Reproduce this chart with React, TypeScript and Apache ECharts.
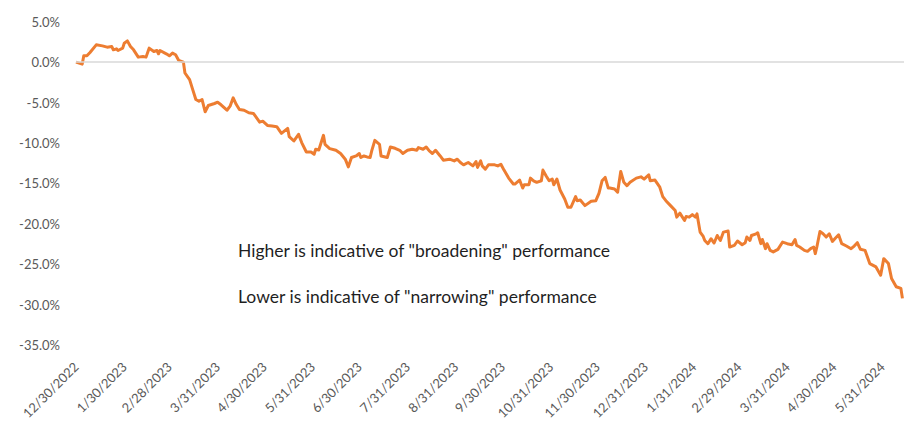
import React, { useEffect, useRef } from "react";
import * as echarts from "echarts";

// Start date of the series (day 0)
const startDate = "2022-12-30";
const endDay = 532; // right edge of the plot (calendar days after start)

// Calendar days after 12/30/2022
const dayOffsets = [
  0, 4, 5, 7, 9, 13, 17, 20, 23, 24, 26, 27, 30, 31, 33, 35, 37, 40, 43, 45,
  47, 50, 52, 53, 54, 58, 60, 62, 64, 66, 69, 70, 73, 75, 77, 79, 81, 83, 85, 89,
  91, 93, 97, 99, 101, 103, 105, 108, 111, 114, 118, 120, 123, 126, 129, 132, 136, 137, 140, 143,
  145, 148, 151, 153, 154, 156, 159, 160, 163, 167, 170, 173, 175, 177, 180, 182, 183, 185, 187, 189,
  190, 192, 195, 196, 200, 202, 205, 208, 210, 213, 216, 219, 220, 223, 225, 227, 229, 231, 234, 236,
  240, 243, 245, 247, 249, 252, 255, 257, 258, 260, 261, 263, 265, 269, 271, 273, 275, 278, 281, 282,
  285, 287, 288, 291, 292, 294, 296, 299, 300, 302, 304, 306, 307, 309, 311, 314, 316, 318, 321, 322,
  324, 327, 331, 334, 336, 338, 340, 342, 343, 346, 348, 350, 352, 354, 356, 360, 363, 365, 368, 369,
  372, 375, 377, 379, 382, 385, 386, 388, 389, 391, 392, 394, 396, 398, 399, 401, 403, 404, 406, 408,
  410, 412, 414, 416, 419, 420, 423, 425, 428, 430, 431, 433, 434, 437, 438, 440, 441, 443, 444, 446,
  448, 451, 454, 457, 460, 462, 463, 465, 468, 470, 472, 474, 475, 476, 478, 480, 482, 484, 486, 488,
  490, 492, 495, 498, 500, 502, 504, 507, 510, 514, 517, 519, 522, 524, 527, 530, 531,
];

// Relative performance (%)
const relPerformance = [
  0.0, -0.25, 0.77, 0.77, 1.18, 2.13, 2.0, 1.84, 1.92, 1.51, 1.63, 1.43, 1.72, 2.33, 2.62, 1.92, 1.51, 0.61, 0.69, 0.61,
  1.72, 1.3, 1.43, 1.02, 1.43, 1.02, 0.77, 1.11, 0.9, 0.2, 0.0, -1.35, -2.17, -3.4, -4.63, -4.84, -4.63, -6.15, -5.37, -5.12,
  -4.96, -5.25, -5.95, -5.45, -4.42, -5.25, -5.86, -5.95, -6.27, -6.35, -7.42, -7.3, -7.83, -7.91, -7.99, -8.81, -8.19, -9.21, -9.75, -8.93,
  -9.95, -11.11, -11.11, -11.39, -10.77, -10.86, -9.05, -10.16, -10.69, -10.9, -11.3, -12.0, -12.95, -11.79, -11.6, -11.3, -11.79, -11.6, -11.72, -11.79,
  -10.98, -9.67, -10.16, -11.6, -11.79, -10.49, -10.65, -10.9, -11.3, -10.9, -10.77, -10.9, -10.57, -10.77, -10.49, -10.98, -11.3, -10.9, -11.6, -12.13,
  -12.0, -12.21, -12.0, -12.41, -12.7, -12.41, -12.83, -12.29, -13.02, -12.21, -12.83, -13.23, -12.7, -12.7, -12.83, -12.62, -13.35, -14.34, -15.07, -15.07,
  -14.58, -15.57, -15.16, -15.16, -14.34, -14.67, -14.86, -14.67, -13.35, -14.05, -14.67, -14.46, -15.16, -14.46, -15.81, -16.92, -17.94, -17.94, -16.63, -17.13,
  -17.04, -17.74, -17.2, -17.13, -16.22, -14.67, -14.25, -15.57, -15.57, -15.69, -16.09, -13.51, -14.86, -15.28, -14.86, -14.34, -14.18, -14.46, -13.93, -14.67,
  -14.58, -15.41, -16.63, -17.13, -17.74, -18.35, -19.16, -18.67, -18.97, -19.58, -19.09, -19.16, -18.85, -19.16, -18.76, -21.01, -21.55, -22.04, -22.45, -21.83,
  -22.36, -21.43, -22.04, -21.01, -20.88, -22.85, -22.65, -22.11, -22.57, -22.32, -21.62, -22.04, -21.43, -21.22, -21.09, -22.44, -21.92, -23.06, -22.44, -23.27,
  -23.46, -23.14, -22.24, -22.44, -22.57, -21.92, -22.65, -22.85, -23.27, -23.39, -23.06, -22.85, -23.67, -22.85, -20.93, -21.22, -21.62, -21.22, -22.16, -21.74,
  -21.34, -22.44, -22.73, -23.06, -22.73, -22.32, -23.14, -23.27, -24.9, -25.31, -26.34, -24.29, -24.9, -26.74, -27.76, -27.97, -29.2,
];

// X-axis tick labels
const tickDates = [
  "12/30/2022", "1/30/2023", "2/28/2023", "3/31/2023", "4/30/2023", "5/31/2023",
  "6/30/2023", "7/31/2023", "8/31/2023", "9/30/2023", "10/31/2023", "11/30/2023",
  "12/31/2023", "1/31/2024", "2/29/2024", "3/31/2024", "4/30/2024", "5/31/2024",
];

const annotations = [
  'Higher is indicative of "broadening" performance',
  'Lower is indicative of "narrowing" performance',
];

const DAY = 86400000;
const startMs = Date.UTC(2022, 11, 30);
const parseMdy = (s: string) => {
  const [m, d, y] = s.split("/").map(Number);
  return Math.round((Date.UTC(y, m - 1, d) - startMs) / DAY);
};
const tickDays = tickDates.map(parseMdy);
const fmtDay = (v: number) => {
  const dt = new Date(startMs + Math.round(v) * DAY);
  return `${dt.getUTCMonth() + 1}/${dt.getUTCDate()}/${dt.getUTCFullYear()}`;
};

export default function App() {
  const ref = useRef<HTMLDivElement>(null);
  useEffect(() => {
    if (!ref.current) return;
    const chart = echarts.init(ref.current, undefined, { renderer: "svg" });
    const font = "Lato, 'Open Sans', sans-serif";
    chart.setOption({
      animation: false,
      backgroundColor: "#ffffff",
      grid: { left: 76, right: 0, top: 21.6, bottom: 74.6, containLabel: false },
      xAxis: {
        type: "value",
        min: 0,
        max: endDay,
        axisLine: { show: false },
        axisTick: { show: false },
        splitLine: { show: false },
        axisLabel: {
          customValues: tickDays,
          formatter: (v: number) => fmtDay(v),
          rotate: 45,
          margin: 19,
          color: "#595959",
          fontSize: 13,
          fontFamily: font,
        },
      },
      yAxis: {
        type: "value",
        min: -35,
        max: 5,
        interval: 5,
        axisLine: { show: false },
        axisTick: { show: false },
        splitLine: { show: false },
        axisLabel: {
          formatter: (v: number) => v.toFixed(1) + "%",
          margin: 16,
          color: "#595959",
          fontSize: 13,
          fontFamily: font,
        },
      },
      series: [
        {
          type: "line",
          data: dayOffsets.map((d, i) => [d, relPerformance[i]]),
          showSymbol: false,
          lineStyle: { color: "#ED7D31", width: 3, join: "round" },
          itemStyle: { color: "#ED7D31" },
          markLine: {
            silent: true,
            symbol: "none",
            label: { show: false },
            lineStyle: { color: "#d9d9d9", width: 1.5, type: "solid" },
            data: [{ yAxis: 0 }],
          },
          z: 3,
        },
      ],
      graphic: annotations.map((t, i) => ({
        type: "text",
        left: 238,
        top: 241 + i * 46,
        style: {
          text: t,
          fill: "#1f1f1f",
          fontSize: 17.5,
          fontFamily: font,
        },
      })),
    });
    return () => chart.dispose();
  }, []);
  return (
    <div
      ref={ref}
      style={{ position: "fixed", left: 0, top: 0, width: 904, height: 422 }}
    />
  );
}
